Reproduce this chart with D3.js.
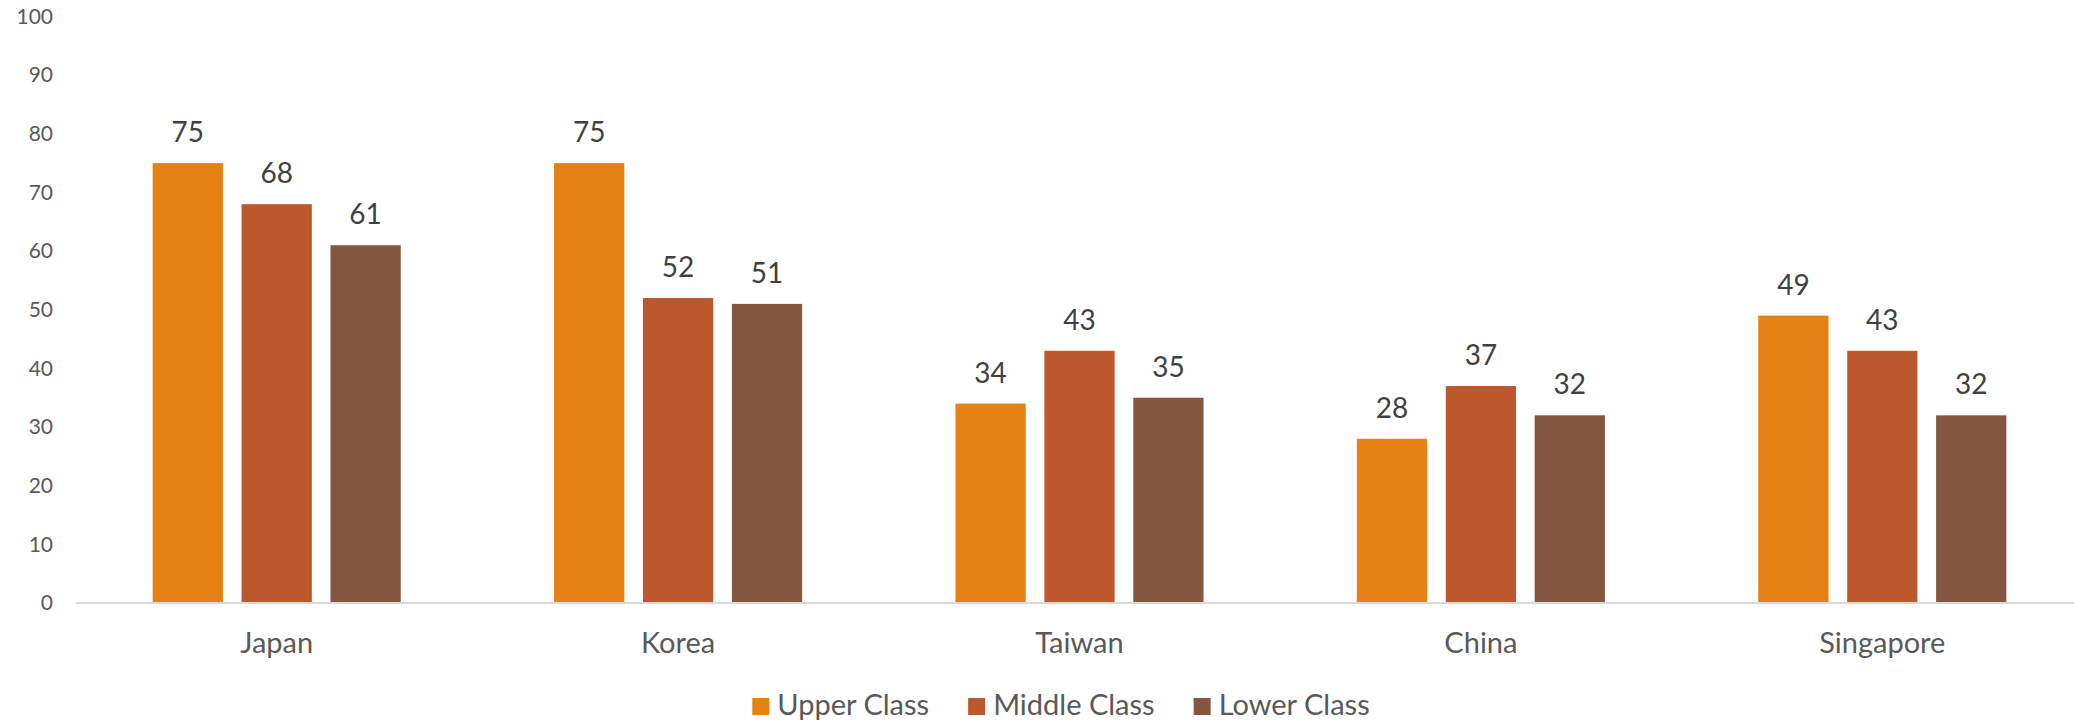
<!DOCTYPE html>
<html>
<head>
<meta charset="utf-8">
<script src="https://cdn.jsdelivr.net/npm/d3@7"></script>
<style>
  html, body { margin: 0; padding: 0; background: #fff; overflow: hidden; }
  svg { display: block; }
  text { font-family: Lato, "Open Sans", sans-serif; }
</style>
</head>
<body>
<svg id="chart" width="2074" height="724"></svg>
<script>
// Share of respondents by social class, per country
const categories = ["Japan", "Korea", "Taiwan", "China", "Singapore"];
const seriesNames = ["Upper Class", "Middle Class", "Lower Class"];
const upperClass = [75, 75, 34, 28, 49];
const middleClass = [68, 52, 43, 37, 43];
const lowerClass = [61, 51, 35, 32, 32];
const yTicks = [0, 10, 20, 30, 40, 50, 60, 70, 80, 90, 100];
const colors = ["#E58213", "#BC582C", "#845640"];

const seriesValues = [upperClass, middleClass, lowerClass];

const svg = d3.select("#chart");
const plotLeft = 76, plotRight = 2083, plotTop = 16.5, plotBottom = 603;

const y = d3.scaleLinear().domain([0, 100]).range([plotBottom, plotTop]);

const x0 = d3.scaleBand()
  .domain(categories)
  .range([plotLeft, plotRight])
  .paddingInner(0.382)
  .paddingOuter(0.191);

const x1 = d3.scaleBand()
  .domain(seriesNames)
  .range([0, x0.bandwidth()])
  .paddingInner(0.21);

const color = d3.scaleOrdinal().domain(seriesNames).range(colors);

// Y axis labels (no line, no ticks)
const yAxis = d3.axisLeft(y).tickValues(yTicks).tickSize(0).tickPadding(0);
const yG = svg.append("g").attr("transform", `translate(53,0)`).call(yAxis);
yG.select(".domain").remove();
yG.selectAll("text")
  .attr("fill", "#595959")
  .style("font-size", "21px")
  .style("font-family", "Lato, 'Open Sans', sans-serif");

// Bars
const groups = svg.append("g")
  .selectAll("g")
  .data(categories)
  .join("g")
  .attr("transform", d => `translate(${x0(d)},0)`);

const cells = groups.selectAll("g.cell")
  .data((d, i) => seriesNames.map((s, j) => ({ series: s, value: seriesValues[j][i] })))
  .join("g")
  .attr("class", "cell");

cells.append("rect")
  .attr("x", d => x1(d.series))
  .attr("y", d => y(d.value))
  .attr("width", x1.bandwidth())
  .attr("height", d => y(0) - y(d.value))
  .attr("fill", d => color(d.series));

cells.append("text")
  .attr("x", d => x1(d.series) + x1.bandwidth() / 2)
  .attr("y", d => y(d.value) - 21)
  .attr("text-anchor", "middle")
  .attr("fill", "#404040")
  .style("font-size", "28px")
  .text(d => d.value);

// X axis baseline and category labels
const xAxis = d3.axisBottom(x0).tickSize(0).tickPadding(0);
const xG = svg.append("g").attr("transform", `translate(0,${plotBottom})`).call(xAxis);
xG.select(".domain")
  .attr("d", `M${plotLeft},0H${plotRight}`)
  .attr("stroke", "#D9D9D9")
  .attr("stroke-width", 2);
xG.selectAll("text")
  .attr("dy", null)
  .attr("y", 50)
  .attr("fill", "#595959")
  .style("font-size", "29px")
  .style("font-family", "Lato, 'Open Sans', sans-serif");

// Legend, laid out horizontally and centred under the plot
const swatch = 17, swatchGap = 8, itemGap = 39, legendCenter = 1061;
const legend = svg.append("g");
const items = legend.selectAll("g")
  .data(seriesNames)
  .join("g");
items.append("rect")
  .attr("x", 0).attr("y", 698)
  .attr("width", swatch).attr("height", swatch)
  .attr("fill", d => color(d));
items.append("text")
  .attr("x", swatch + swatchGap).attr("y", 715)
  .attr("fill", "#595959")
  .style("font-size", "29px")
  .text(d => d);

const widths = [];
items.each(function () {
  widths.push(swatch + swatchGap + d3.select(this).select("text").node().getComputedTextLength());
});
const total = d3.sum(widths) + itemGap * (widths.length - 1);
let cursor = legendCenter - total / 2;
items.attr("transform", (d, i) => {
  const tx = cursor;
  cursor += widths[i] + itemGap;
  return `translate(${tx},0)`;
});
</script>
</body>
</html>
